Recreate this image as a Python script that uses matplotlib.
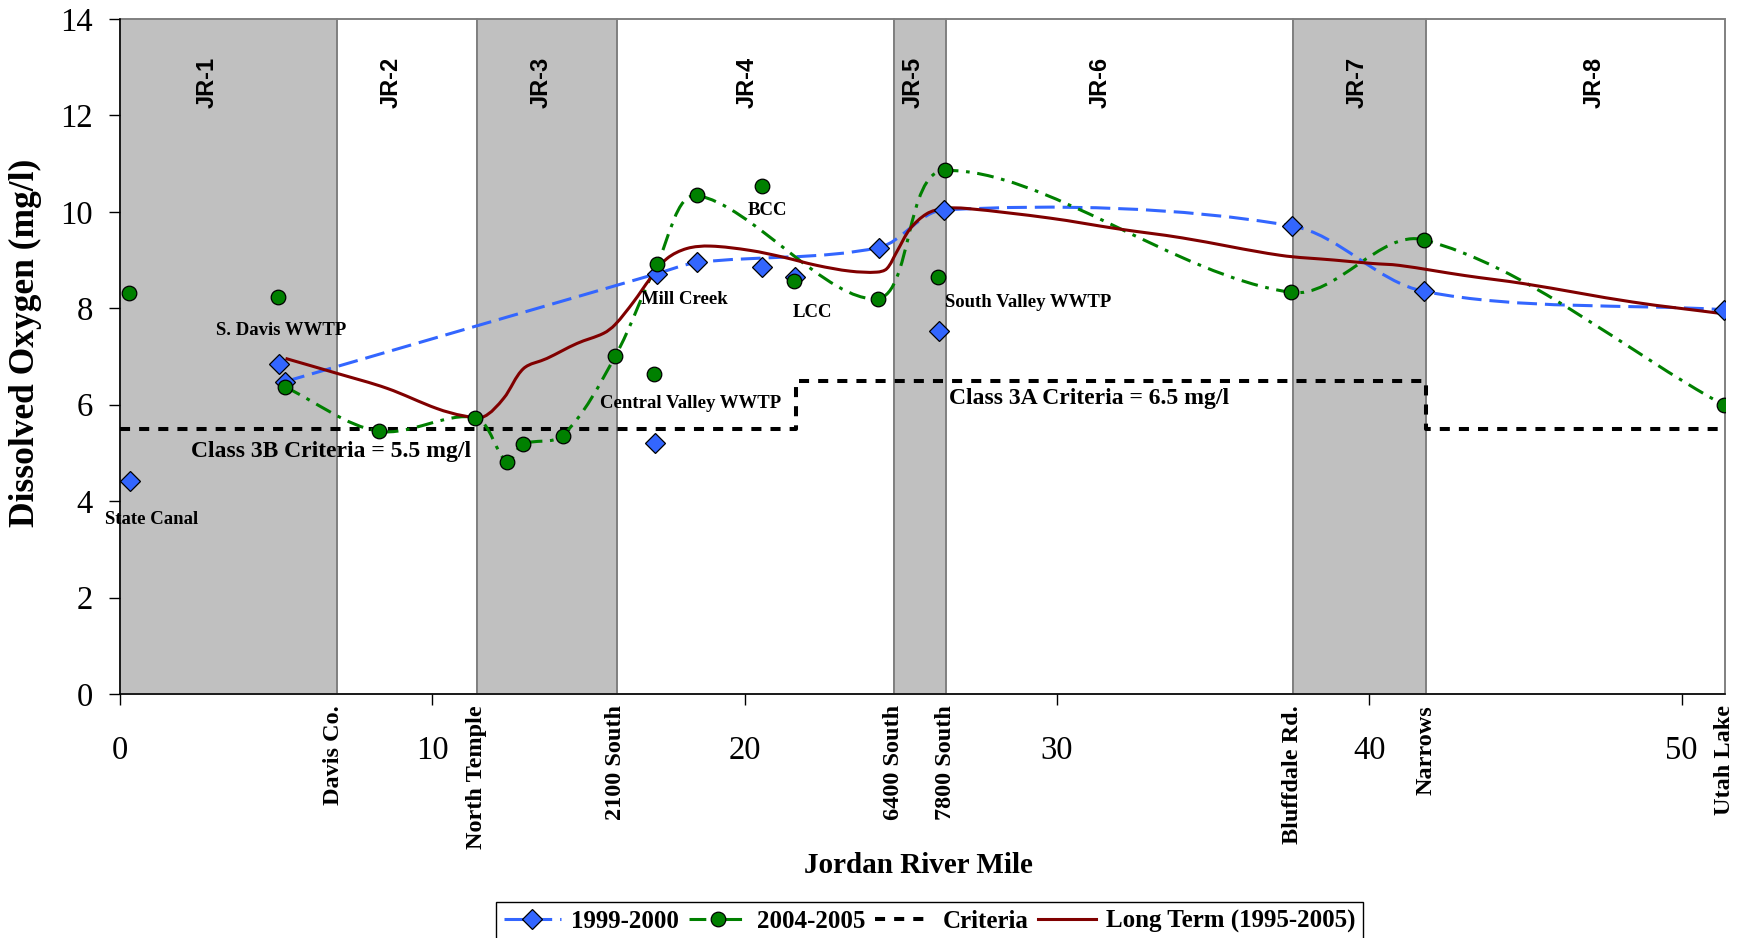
import matplotlib
matplotlib.use("Agg")
import matplotlib.pyplot as plt
import numpy as np
from matplotlib.path import Path
from matplotlib.patches import PathPatch, Rectangle
from matplotlib.lines import Line2D

# river reaches (river mile boundaries)
reach_names = ["JR-1", "JR-2", "JR-3", "JR-4", "JR-5", "JR-6", "JR-7", "JR-8"]
reach_edges = [0, 6.95, 11.43, 15.92, 24.77, 26.45, 37.55, 41.83, 51.39]
reach_shaded = [True, False, True, False, True, False, True, False]
reach_label_x = [2.79, 8.68, 13.47, 20.09, 25.41, 31.38, 39.6, 47.2]

landmark_names = ["Davis Co.", "North Temple", "2100 South", "6400 South",
                  "7800 South", "Bluffdale Rd.", "Narrows", "Utah Lake"]
landmark_miles = [6.85, 11.40, 15.87, 24.77, 26.43, 37.55, 41.83, 51.37]
mile_ticks = [0, 10, 20, 30, 40, 50]

# 1999-2000 mainstem
do_9900_mile = [5.29, 17.20, 18.49, 24.29, 26.38, 37.51, 41.76, 51.37]
do_9900 = [6.48, 8.72, 8.95, 9.26, 10.04, 9.71, 8.35, 7.97]
# 1999-2000 canals / tributaries / WWTPs (not connected)
in_9900_mile = [0.32, 5.08, 17.13, 20.56, 21.60, 26.21]
in_9900 = [4.42, 6.85, 5.21, 8.85, 8.65, 7.53]

# 2004-2005 mainstem
do_0405_mile = [5.28, 8.28, 11.38, 12.39, 12.89, 14.17, 15.86, 17.19, 18.47,
                24.26, 26.40, 37.49, 41.74, 51.36]
do_0405 = [6.37, 5.45, 5.73, 4.82, 5.18, 5.36, 7.01, 8.91, 10.34,
           8.20, 10.86, 8.33, 9.42, 5.99]
in_0405_mile = [0.29, 5.07, 17.09, 20.55, 21.59, 26.19]
in_0405 = [8.31, 8.24, 6.63, 10.54, 8.56, 8.64]

# long term 1995-2005
lt_mile = [5.30, 6.95, 8.55, 10.15, 11.00, 11.64, 12.28, 12.92, 13.67, 14.63,
           15.48, 15.85, 16.44, 16.98, 17.51, 18.15, 18.90, 20.18, 21.24, 22.31,
           23.38, 24.23, 24.55, 24.87, 25.30, 25.83, 26.37, 27.11, 29.78, 31.93,
           34.01, 37.14, 38.88, 40.09, 40.96, 43.05, 44.96, 48.43, 51.30]
lt_do = [6.96, 6.65, 6.34, 5.92, 5.77, 5.75, 6.13, 6.75, 6.96, 7.27,
         7.48, 7.66, 8.13, 8.62, 9.03, 9.24, 9.29, 9.20, 9.06, 8.89,
         8.77, 8.75, 8.82, 9.17, 9.65, 9.96, 10.07, 10.07, 9.87, 9.65,
         9.46, 9.10, 9.00, 8.93, 8.89, 8.68, 8.51, 8.13, 7.89]

crit_mile = [0, 21.66, 21.66, 41.83, 41.83, 51.39]
crit_do = [5.5, 5.5, 6.5, 6.5, 5.5, 5.5]

site_labels = ["State Canal", "S. Davis WWTP", "Mill Creek", "BCC", "LCC",
               "Central Valley WWTP", "South Valley WWTP"]
site_xy = [(1.0, 3.62), (5.15, 7.54), (18.08, 8.19), (20.73, 10.02),
           (22.16, 7.91), (18.26, 6.03), (29.09, 8.12)]

BLUE = "#3366FF"
GREEN = "#008000"
RED = "#800000"
SERIF = "Liberation Serif"
SANS = "Liberation Sans"

W, H = 1751, 938
ax_l, ax_r, ax_t, ax_b = 120, 1725, 19, 694
XMAX = 51.39
px_x = (ax_r - ax_l) / XMAX
px_y = (ax_b - ax_t) / 14.0


def smooth_path(xs, ys):
    # excel-like smoothed line: bezier segments through every point
    p = np.column_stack([np.asarray(xs) * px_x, np.asarray(ys) * px_y])
    n = len(p)
    out_t = np.zeros_like(p)
    in_t = np.zeros_like(p)
    for i in range(n):
        if i == 0:
            out_t[i] = (p[1] - p[0]) / 3
        elif i == n - 1:
            in_t[i] = (p[i] - p[i - 1]) / 3
        else:
            t = p[i + 1] - p[i - 1]
            d0 = np.hypot(*(p[i] - p[i - 1]))
            d1 = np.hypot(*(p[i + 1] - p[i]))
            out_t[i] = t * d1 / (d0 + d1) / 3
            in_t[i] = t * d0 / (d0 + d1) / 3
    verts = [p[0]]
    codes = [Path.MOVETO]
    for i in range(n - 1):
        verts += [p[i] + out_t[i], p[i + 1] - in_t[i + 1], p[i + 1]]
        codes += [Path.CURVE4] * 3
    verts = np.array(verts) / [px_x, px_y]
    return Path(verts, codes)


fig = plt.figure(figsize=(W / 100, H / 100), dpi=100)
ax = fig.add_axes([ax_l / W, (H - ax_b) / H, (ax_r - ax_l) / W, (ax_b - ax_t) / H])
ax.set_xlim(0, XMAX)
ax.set_ylim(0, 14)

for i, name in enumerate(reach_names):
    x0, x1 = reach_edges[i], reach_edges[i + 1]
    fc = "#C0C0C0" if reach_shaded[i] else "white"
    ax.add_patch(Rectangle((x0, 0), x1 - x0, 14, facecolor=fc, edgecolor="#808080",
                           lw=1.4, zorder=0.5, clip_on=False))
    ax.text(reach_label_x[i], 12.69, name, rotation=90, ha="center", va="center",
            fontsize=17, fontweight="bold", family=SANS, zorder=6)

# criteria
ax.plot(crit_mile, crit_do, color="black", lw=2.9, ls=(0, (2.5, 2.25)), zorder=2)

# smoothed series lines
ax.add_patch(PathPatch(smooth_path(do_9900_mile, do_9900), fill=False, edgecolor=BLUE,
                       lw=2.2, ls=(0, (6.5, 2.6)), zorder=3))
ax.add_patch(PathPatch(smooth_path(do_0405_mile, do_0405), fill=False, edgecolor=GREEN,
                       lw=2.2, ls=(0, (5.5, 2.5, 1.2, 2.5)), zorder=3.2))
ax.add_patch(PathPatch(smooth_path(lt_mile, lt_do), fill=False, edgecolor=RED,
                       lw=2.2, zorder=3.4))

blue_mk = dict(marker="D", ms=10, mfc=BLUE, mec="black", mew=0.9, ls="none")
green_mk = dict(marker="o", ms=10.5, mfc=GREEN, mec="black", mew=0.9, ls="none")
ax.plot(do_9900_mile, do_9900, zorder=4, **blue_mk)
ax.plot(in_9900_mile, in_9900, zorder=4, **blue_mk)
ax.plot(do_0405_mile, do_0405, zorder=4.5, **green_mk)
ax.plot(in_0405_mile, in_0405, zorder=4.5, **green_mk)

for lab, (x, y) in zip(site_labels, site_xy):
    ax.text(x, y, lab, ha="center", va="center", fontsize=13.5, fontweight="bold",
            family=SERIF, zorder=6)
ax.text(6.75, 5.04, "Class 3B Criteria = 5.5 mg/l", ha="center", va="center",
        fontsize=17, fontweight="bold", family=SERIF, zorder=6)
ax.text(31.02, 6.12, "Class 3A Criteria = 6.5 mg/l", ha="center", va="center",
        fontsize=17, fontweight="bold", family=SERIF, zorder=6)

# axes styling
for s in ["top", "right"]:
    ax.spines[s].set_visible(False)
for s in ["left", "bottom"]:
    ax.spines[s].set_color("black")
    ax.spines[s].set_linewidth(1.1)
    ax.spines[s].set_zorder(5)

ax.set_yticks(range(0, 15, 2))
ax.set_yticklabels([str(v) for v in range(0, 15, 2)], fontsize=23.5, family=SERIF)
ax.tick_params(axis="y", direction="out", length=7.7, width=1, pad=12)

ax.set_xticks(landmark_miles)
ax.set_xticklabels(landmark_names, rotation=90, fontsize=17.5, fontweight="bold", family=SERIF)
ax.set_xticks(mile_ticks, minor=True)
ax.set_xticklabels([str(v) for v in mile_ticks], minor=True, fontsize=23.5, family=SERIF)
ax.tick_params(axis="x", which="major", length=0, pad=8)
ax.tick_params(axis="x", which="minor", direction="out", length=8, width=1, pad=22)

ax.set_ylabel("Dissolved Oxygen (mg/l)", fontsize=25.5, fontweight="bold", family=SERIF)
ax.yaxis.label.set_va("center")
ax.yaxis.set_label_coords((25 - ax_l) / (ax_r - ax_l), (ax_b - 343) / (ax_b - ax_t))
ax.set_xlabel("Jordan River Mile", fontsize=21, fontweight="bold", family=SERIF)
ax.xaxis.label.set_va("center")
ax.xaxis.set_label_coords((918 - ax_l) / (ax_r - ax_l), (ax_b - 865) / (ax_b - ax_t))

handles = [
    Line2D([], [], color=BLUE, lw=2.2, ls=(0, (6.5, 2.6)), marker="D", ms=10,
           mfc=BLUE, mec="black", mew=0.9),
    Line2D([], [], color=GREEN, lw=2.2, ls=(0, (5.5, 2.5, 1.2, 2.5)), marker="o", ms=10.5,
           mfc=GREEN, mec="black", mew=0.9),
    Line2D([], [], color="black", lw=2.9, ls=(0, (2.5, 2.25))),
    Line2D([], [], color=RED, lw=2.2),
]
labels = ["1999-2000", "2004-2005", "Criteria", "Long Term (1995-2005)"]
leg = fig.legend(handles, labels, loc="upper center", ncol=4,
                 bbox_to_anchor=(929.5 / W, 1 - 902 / H), bbox_transform=fig.transFigure,
                 prop={"family": SERIF, "weight": "bold", "size": 18},
                 frameon=True, fancybox=False, edgecolor="black", framealpha=1,
                 handlelength=2.3, handletextpad=0.4, columnspacing=0.4, borderpad=0.3,
                 borderaxespad=0)
leg.get_frame().set_linewidth(1.0)

fig.savefig("out.png", dpi=100)
